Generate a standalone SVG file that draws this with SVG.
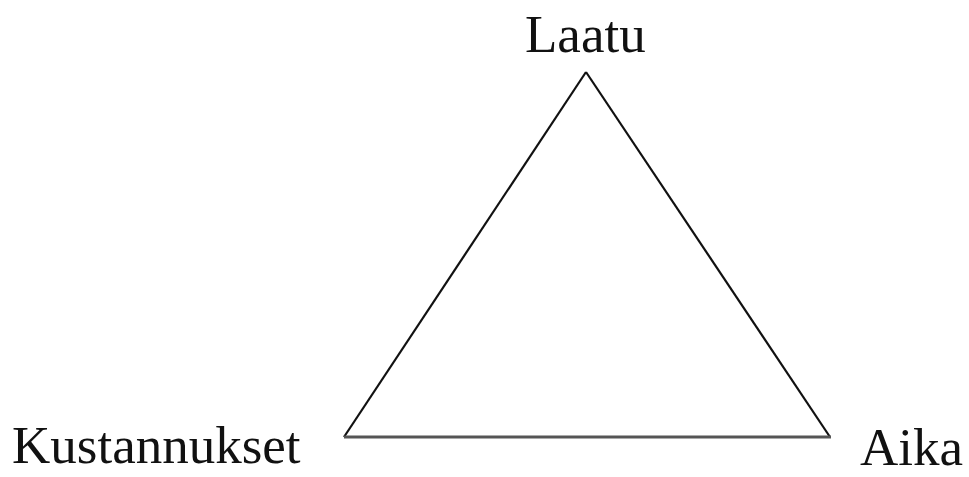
<svg xmlns="http://www.w3.org/2000/svg" width="969" height="477" viewBox="0 0 969 477">
<style>
.lbl{font-family:"Liberation Serif","Times New Roman",serif;font-size:53px;fill:#111}
.side{stroke:#111;stroke-width:2.2;fill:none}
</style>
<rect width="969" height="477" fill="#fff"/>
<g id="connectors">
<line class="side" x1="344" y1="437" x2="586" y2="72"/>
<line class="side" x1="586" y1="72" x2="830" y2="437"/>
<line x1="344" y1="437" x2="831" y2="437" stroke="#555" stroke-width="3"/>
</g>
<g id="laatu"><text class="lbl" x="525" y="52">Laatu</text></g>
<g id="kustannukset"><text class="lbl" x="12" y="463">Kustannukset</text></g>
<g id="aika"><text class="lbl" x="860" y="465">Aika</text></g>
</svg>
